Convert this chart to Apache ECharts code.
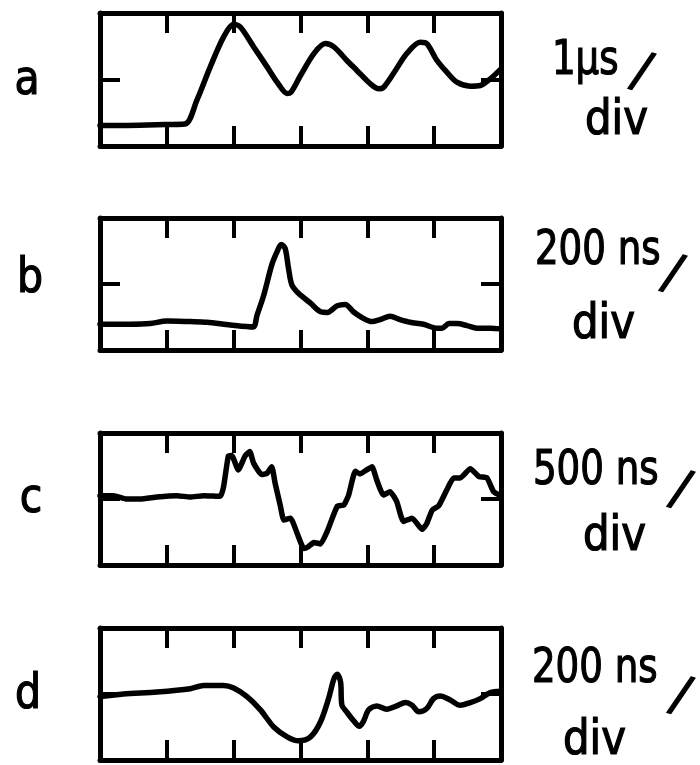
<!DOCTYPE html>
<html>
<head>
<meta charset="utf-8">
<script src="https://cdn.jsdelivr.net/npm/echarts@6/dist/echarts.min.js"></script>
<style>
  html, body { margin: 0; padding: 0; background: #fff; }
  #chart { width: 700px; height: 765px; }
</style>
</head>
<body>
<div id="chart"></div>
<script>
// ── Traces ───────────────────────────────────────────────────────────────────
// Time in screen divisions (0..6), amplitude in divisions (-1..1), read off
// the oscillograms.

const traceA_t = [0, 0.35, 0.85, 1.27, 1.45, 1.65, 1.85, 2.0, 2.1, 2.3, 2.5, 2.65, 2.8, 2.85,
  3.0, 3.2, 3.37, 3.5, 3.69, 3.84, 4.04, 4.17, 4.24, 4.39, 4.59, 4.79, 4.89, 5.04, 5.19,
  5.34, 5.54, 5.69, 5.84, 6.0];
const traceA_v = [-0.69, -0.69, -0.68, -0.67, -0.31, 0.19, 0.64, 0.83, 0.79, 0.49, 0.19, -0.04,
  -0.21, -0.2, 0.06, 0.39, 0.54, 0.49, 0.29, 0.14, -0.06, -0.14, -0.12, 0.09, 0.39, 0.56,
  0.54, 0.29, 0.11, -0.04, -0.1, -0.09, 0.01, 0.16];

const traceB_t = [0, 0.45, 0.75, 1.0, 1.35, 1.6, 1.95, 2.29, 2.35, 2.45, 2.57, 2.65, 2.71,
  2.77, 2.82, 2.87, 2.97, 3.15, 3.3, 3.4, 3.55, 3.67, 3.79, 3.94, 4.07, 4.19, 4.34, 4.49,
  4.64, 4.84, 5.04, 5.12, 5.22, 5.34, 5.49, 5.64, 5.84, 6.0];
const traceB_v = [-0.61, -0.61, -0.6, -0.56, -0.57, -0.58, -0.62, -0.65, -0.47, -0.17, 0.29,
  0.49, 0.6, 0.54, 0.24, -0.01, -0.14, -0.29, -0.42, -0.43, -0.33, -0.31, -0.42, -0.52,
  -0.57, -0.54, -0.49, -0.54, -0.58, -0.61, -0.67, -0.67, -0.6, -0.6, -0.63, -0.67,
  -0.67, -0.68];

const traceC_t = [0, 0.2, 0.4, 0.6, 0.85, 1.15, 1.35, 1.55, 1.8, 1.85, 1.92, 1.97, 2.07, 2.17,
  2.24, 2.3, 2.42, 2.5, 2.57, 2.62, 2.7, 2.75, 2.85, 2.95, 3.05, 3.12, 3.2, 3.3, 3.4,
  3.55, 3.65, 3.72, 3.82, 3.89, 3.99, 4.07, 4.14, 4.24, 4.34, 4.44, 4.54, 4.67, 4.82,
  4.89, 4.97, 5.07, 5.19, 5.29, 5.39, 5.54, 5.67, 5.79, 5.89, 6.0];
const traceC_v = [0.05, 0.05, 0.0, 0.0, 0.03, 0.05, 0.03, 0.05, 0.04, 0.19, 0.65, 0.66, 0.44,
  0.65, 0.72, 0.54, 0.37, 0.39, 0.49, 0.24, -0.11, -0.32, -0.29, -0.52, -0.75, -0.72,
  -0.66, -0.68, -0.49, -0.11, -0.09, 0.06, 0.42, 0.38, 0.44, 0.49, 0.29, 0.06, 0.11,
  -0.04, -0.34, -0.29, -0.46, -0.37, -0.17, -0.1, 0.14, 0.32, 0.32, 0.46, 0.34, 0.32,
  0.11, 0.05];

const traceD_t = [0, 0.35, 0.85, 1.35, 1.55, 1.85, 2.0, 2.2, 2.4, 2.6, 2.8, 2.97, 3.15, 3.3,
  3.42, 3.5, 3.55, 3.6, 3.62, 3.69, 3.79, 3.88, 3.94, 4.02, 4.14, 4.29, 4.44, 4.57, 4.67,
  4.77, 4.89, 4.99, 5.09, 5.24, 5.39, 5.54, 5.69, 5.84, 6.0];
const traceD_v = [-0.04, 0.0, 0.03, 0.08, 0.13, 0.13, 0.09, -0.04, -0.24, -0.5, -0.65, -0.71,
  -0.65, -0.42, -0.07, 0.23, 0.3, 0.18, -0.17, -0.27, -0.4, -0.49, -0.42, -0.24, -0.18,
  -0.23, -0.18, -0.13, -0.17, -0.27, -0.22, -0.07, -0.03, -0.09, -0.17, -0.13, -0.07,
  0.02, 0.04];

const panelLetters = ['a', 'b', 'c', 'd'];
const timebases = ['1µs', '200 ns', '500 ns', '200 ns'];
const perDiv = 'div';

// ── Layout ───────────────────────────────────────────────────────────────────
// Screen boxes of the four oscillograms, and where their captions sit.

const BOX_LEFT = 100, BOX_WIDTH = 401;
const PANELS = [
  { top: 13,  height: 133, letter: [27, 82],  base: [552, 62],  slash: [641, 74],  div: [585, 122] },
  { top: 218, height: 132, letter: [30, 280], base: [535, 252], slash: [672, 276], div: [572, 326] },
  { top: 433, height: 132, letter: [31, 500], base: [533, 472], slash: [680, 492], div: [583, 538] },
  { top: 628, height: 132, letter: [28, 696], base: [532, 670], slash: [680, 698], div: [563, 742] },
];
const traces = [
  [traceA_t, traceA_v], [traceB_t, traceB_v], [traceC_t, traceC_v], [traceD_t, traceD_v],
];

const INK = '#000';
const FONT = '"DejaVu Sans Condensed", "DejaVu Sans", sans-serif';

// ── Options ──────────────────────────────────────────────────────────────────

const frameAxis = (gridIndex, position, min, max) => ({
  gridIndex,
  position,
  type: 'value',
  min, max, interval: 1,
  axisLine:  { show: true, onZero: false, lineStyle: { color: INK, width: 5 } },
  axisTick:  { show: true, inside: true, length: 20, lineStyle: { color: INK, width: 4 } },
  axisLabel: { show: false },
  splitLine: { show: false },
});

const grid = [], xAxis = [], yAxis = [], series = [], graphic = [];

PANELS.forEach((p, i) => {
  grid.push({ left: BOX_LEFT, width: BOX_WIDTH, top: p.top, height: p.height });
  xAxis.push(frameAxis(i, 'bottom', 0, 6), frameAxis(i, 'top', 0, 6));
  yAxis.push(frameAxis(i, 'left', -1, 1), frameAxis(i, 'right', -1, 1));

  const [t, v] = traces[i];
  series.push({
    type: 'line',
    xAxisIndex: i * 2,
    yAxisIndex: i * 2,
    data: t.map((x, k) => [x, v[k]]),
    smooth: i === 2 ? 0.15 : 0.3,
    showSymbol: false,
    lineStyle: { color: INK, width: 5.5, cap: 'round', join: 'round' },
    animation: false,
  });

  // captions: condensed face, thickened with a thin outline and squeezed a bit
  const txt = (pos, text, align, size, sx, rot) => ({
    type: 'text',
    x: pos[0], y: pos[1],
    scaleX: sx,
    rotation: rot || 0,
    style: {
      text, fill: INK, stroke: INK, lineWidth: 1.2, font: `${size}px ${FONT}`,
      textAlign: align, textVerticalAlign: 'middle',
    },
  });
  graphic.push(
    txt(p.letter, panelLetters[i], 'center', 48, 0.95),
    txt(p.base, timebases[i], 'left', 48, 0.86),
    txt(p.slash, '/', 'center', 50, 1.1, -0.3),
    txt(p.div, perDiv, 'left', 48, 0.97),
  );
});

const chart = echarts.init(document.getElementById('chart'), null, { renderer: 'canvas' });
chart.setOption({
  backgroundColor: '#fff',
  animation: false,
  grid, xAxis, yAxis, series, graphic,
});
</script>
</body>
</html>
